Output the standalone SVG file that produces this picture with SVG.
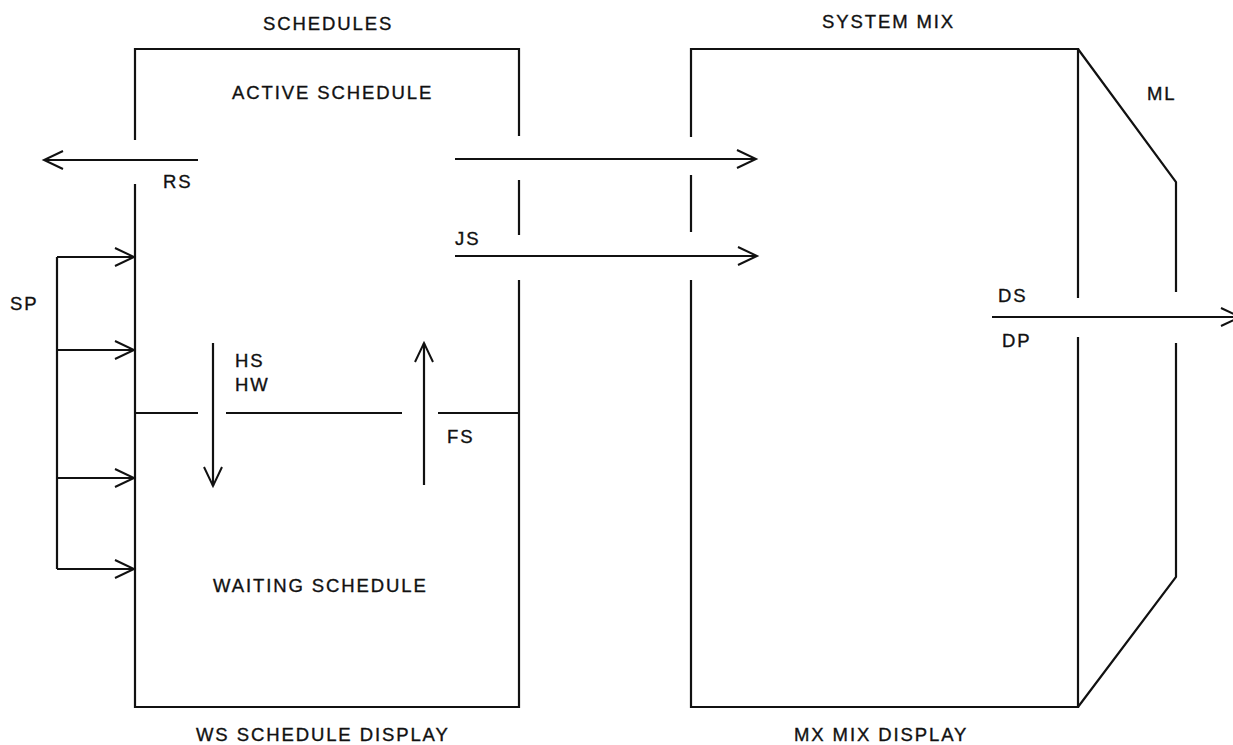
<svg xmlns="http://www.w3.org/2000/svg" width="1233" height="745" viewBox="0 0 1233 745">
  <style>
    .ln { fill: none; stroke: #111; stroke-width: 2.2; stroke-linecap: butt; stroke-linejoin: miter; }
    .ar { fill: none; stroke: #111; stroke-width: 2.2; marker-end: url(#open); }
    .t { font-family: "Liberation Sans", Arial, sans-serif; font-size: 18.5px; fill: #111; stroke: #111; stroke-width: 0.35; letter-spacing: 1.9px; }
  </style>
  <defs>
    <marker id="open" viewBox="0 0 22 20" refX="20" refY="10" markerWidth="22" markerHeight="20" markerUnits="userSpaceOnUse" orient="auto" overflow="visible">
      <path d="M1,1 L20,10 L1,19" fill="none" stroke="#111" stroke-width="2"/>
    </marker>
  </defs>
  <rect width="1233" height="745" fill="#ffffff"/>

  <g id="schedules">
    <path class="ln" d="M135,140 V49 H519 V136 M519,180 V235 M519,280 V707 H135 V184"/>
    <path class="ln" d="M136,413 H198 M226,413 H402 M438,413 H519"/>
    <text class="t" x="263" y="30">SCHEDULES</text>
    <text class="t" x="232" y="99">ACTIVE SCHEDULE</text>
    <text class="t" x="213" y="592">WAITING SCHEDULE</text>
    <text class="t" x="196" y="741">WS SCHEDULE DISPLAY</text>
  </g>

  <g id="system-mix">
    <path class="ln" d="M691,137 V49 H1078 V298 M1078,337 V707 H691 V280 M691,175 V232"/>
    <path class="ln" d="M1078,49 L1176,182 V292 M1176,343 V577 L1078,707"/>
    <text class="t" x="822" y="28">SYSTEM MIX</text>
    <text class="t" x="1147" y="100">ML</text>
    <text class="t" x="794" y="741">MX MIX DISPLAY</text>
  </g>

  <g id="connectors">
    <path class="ar" d="M198,160 H44"/>
    <path class="ar" d="M455,159 H756"/>
    <path class="ar" d="M455,256 H757"/>
    <path class="ln" d="M57,257 V569"/>
    <path class="ar" d="M57,257 H134"/>
    <path class="ar" d="M57,350 H134"/>
    <path class="ar" d="M57,478 H134"/>
    <path class="ar" d="M57,569 H134"/>
    <path class="ar" d="M213,343 V486"/>
    <path class="ar" d="M424,485 V343"/>
    <path class="ar" d="M992,317 H1240"/>
  </g>

  <g id="labels">
    <text class="t" x="163" y="188">RS</text>
    <text class="t" x="455" y="245">JS</text>
    <text class="t" x="10" y="310">SP</text>
    <text class="t" x="235" y="367">HS</text>
    <text class="t" x="235" y="391">HW</text>
    <text class="t" x="447" y="443">FS</text>
    <text class="t" x="998" y="302">DS</text>
    <text class="t" x="1002" y="347">DP</text>
  </g>
</svg>
